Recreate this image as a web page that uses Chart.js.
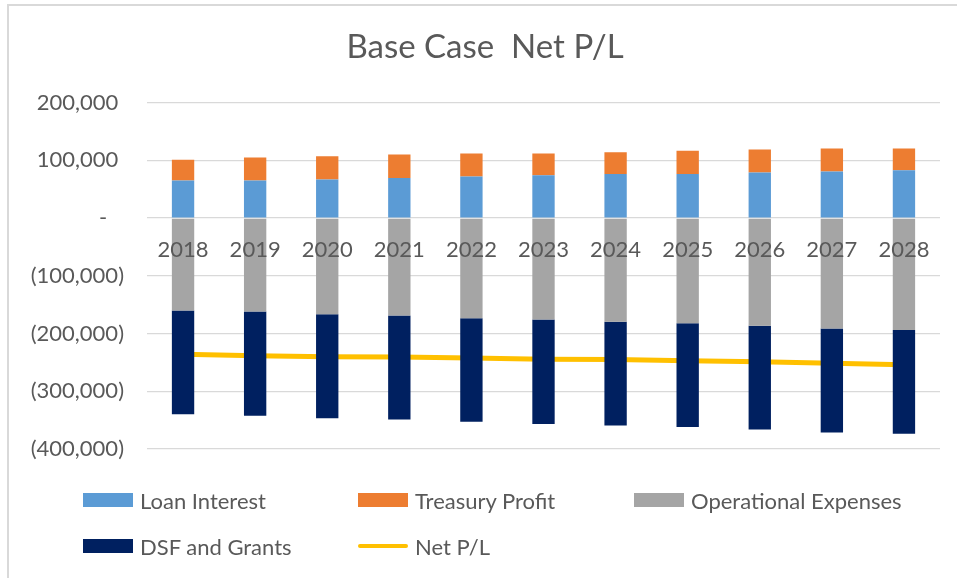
<!DOCTYPE html>
<html>
<head>
<meta charset="utf-8">
<script src="https://cdn.jsdelivr.net/npm/chart.js@4"></script>
<style>
html,body{margin:0;padding:0;background:#fff;}
#wrap{position:relative;width:957px;height:578px;overflow:hidden;background:#fff;}
#frame{position:absolute;left:7px;top:4px;width:980px;height:600px;border-left:2px solid #d9d9d9;border-top:2px solid #d9d9d9;box-sizing:border-box;}
#c{position:absolute;left:0;top:0;}
#legend{position:absolute;left:0;top:0;width:957px;height:578px;font-family:Lato,"Open Sans",sans-serif;font-size:22px;color:#595959;pointer-events:none;}
.item{position:absolute;display:flex;align-items:center;height:26px;white-space:nowrap;}
.sw{display:inline-block;width:50px;margin-right:7px;}
</style>
</head>
<body>
<div id="wrap">
  <div id="frame"></div>
  <canvas id="c" width="957" height="578"></canvas>
  <div id="legend"></div>
</div>
<script>
// ---- data ----
const years = ['2018','2019','2020','2021','2022','2023','2024','2025','2026','2027','2028'];
const loanInterest    = [65000, 65000, 67000, 69500, 71800, 74000, 76500, 76500, 78800, 80500, 82800];
const treasuryProfit  = [36000, 39900, 40000, 40500, 40000, 37800, 37500, 40000, 40000, 40000, 37700];
const operationalExp  = [-160000, -162000, -166500, -168700, -173400, -175700, -179800, -182000, -186700, -191300, -193700];
const dsfAndGrants    = [-180000, -180600, -180200, -180300, -179600, -180800, -179700, -179700, -179700, -180300, -179700];
const netPL           = [-236000, -238500, -240000, -240500, -242500, -244500, -245000, -247000, -249000, -251500, -254000];
const yTicks          = [-400000, -300000, -200000, -100000, 0, 100000, 200000];
const seriesNames     = ['Loan Interest', 'Treasury Profit', 'Operational Expenses', 'DSF and Grants', 'Net P/L'];
const chartTitle      = 'Base Case  Net P/L';

const FONT = 'Lato, "Open Sans", sans-serif';
const TXT = '#595959';

function fmt(v){ return Math.round(v).toLocaleString('en-US'); }

const barCommon = { barPercentage: 0.31, categoryPercentage: 1.0, borderWidth: 0 };

const chart = new Chart(document.getElementById('c'), {
  type: 'bar',
  data: {
    labels: years,
    datasets: [
      Object.assign({ label: seriesNames[0], data: loanInterest,   backgroundColor: '#5B9BD5' }, barCommon),
      Object.assign({ label: seriesNames[1], data: treasuryProfit, backgroundColor: '#ED7D31' }, barCommon),
      Object.assign({ label: seriesNames[2], data: operationalExp, backgroundColor: '#A5A5A5' }, barCommon),
      Object.assign({ label: seriesNames[3], data: dsfAndGrants,   backgroundColor: '#002060' }, barCommon),
      { type: 'line', label: seriesNames[4], data: netPL, stack: 'net',
        borderColor: '#FFC000', backgroundColor: '#FFC000', borderWidth: 5,
        borderCapStyle: 'round', pointRadius: 0, pointHoverRadius: 0, tension: 0, fill: false }
    ]
  },
  options: {
    responsive: false,
    animation: false,
    devicePixelRatio: 1,
    layout: { padding: { left: 30, right: 17, top: 10, bottom: 129 } },
    plugins: {
      legend: { display: false },
      tooltip: { enabled: false },
      title: {
        display: true, text: chartTitle, color: TXT,
        font: { family: FONT, size: 33, weight: 'normal' },
        padding: { top: 18, bottom: 35 }
      }
    },
    scales: {
      x: {
        stacked: true,
        position: { y: 0 },
        grid: { display: false },
        border: { display: false },
        ticks: { z: 1, color: TXT, font: { family: FONT, size: 22 }, padding: 11, maxRotation: 0 }
      },
      y: {
        stacked: true,
        min: yTicks[0], max: yTicks[yTicks.length - 1],
        afterBuildTicks: s => { s.ticks = yTicks.map(v => ({ value: v })); },
        afterFit: s => { s.width = 117; },
        grid: { color: '#d9d9d9', lineWidth: 1.3, drawTicks: false },
        border: { display: false },
        ticks: {
          color: TXT, font: { family: FONT, size: 22 }, padding: 23,
          callback: v => v === 0 ? '-   ' : (v < 0 ? '(' + fmt(-v) + ')' : fmt(v) + ' ')
        }
      }
    }
  }
});

// ---- HTML legend built from the chart's datasets ----
const legendSlots = [[83, 500], [358, 500], [634, 500], [83, 546], [358, 546]];
const lg = document.getElementById('legend');
chart.data.datasets.forEach((ds, i) => {
  const it = document.createElement('div');
  it.className = 'item';
  it.style.left = legendSlots[i][0] + 'px';
  it.style.top = (legendSlots[i][1] - 13) + 'px';
  const sw = document.createElement('span');
  sw.className = 'sw';
  if (ds.type === 'line') {
    sw.style.height = '4px'; sw.style.borderRadius = '2px'; sw.style.background = ds.borderColor;
  } else {
    sw.style.height = '14px'; sw.style.background = ds.backgroundColor;
  }
  it.appendChild(sw);
  it.appendChild(document.createTextNode(ds.label));
  lg.appendChild(it);
});
</script>
</body>
</html>
